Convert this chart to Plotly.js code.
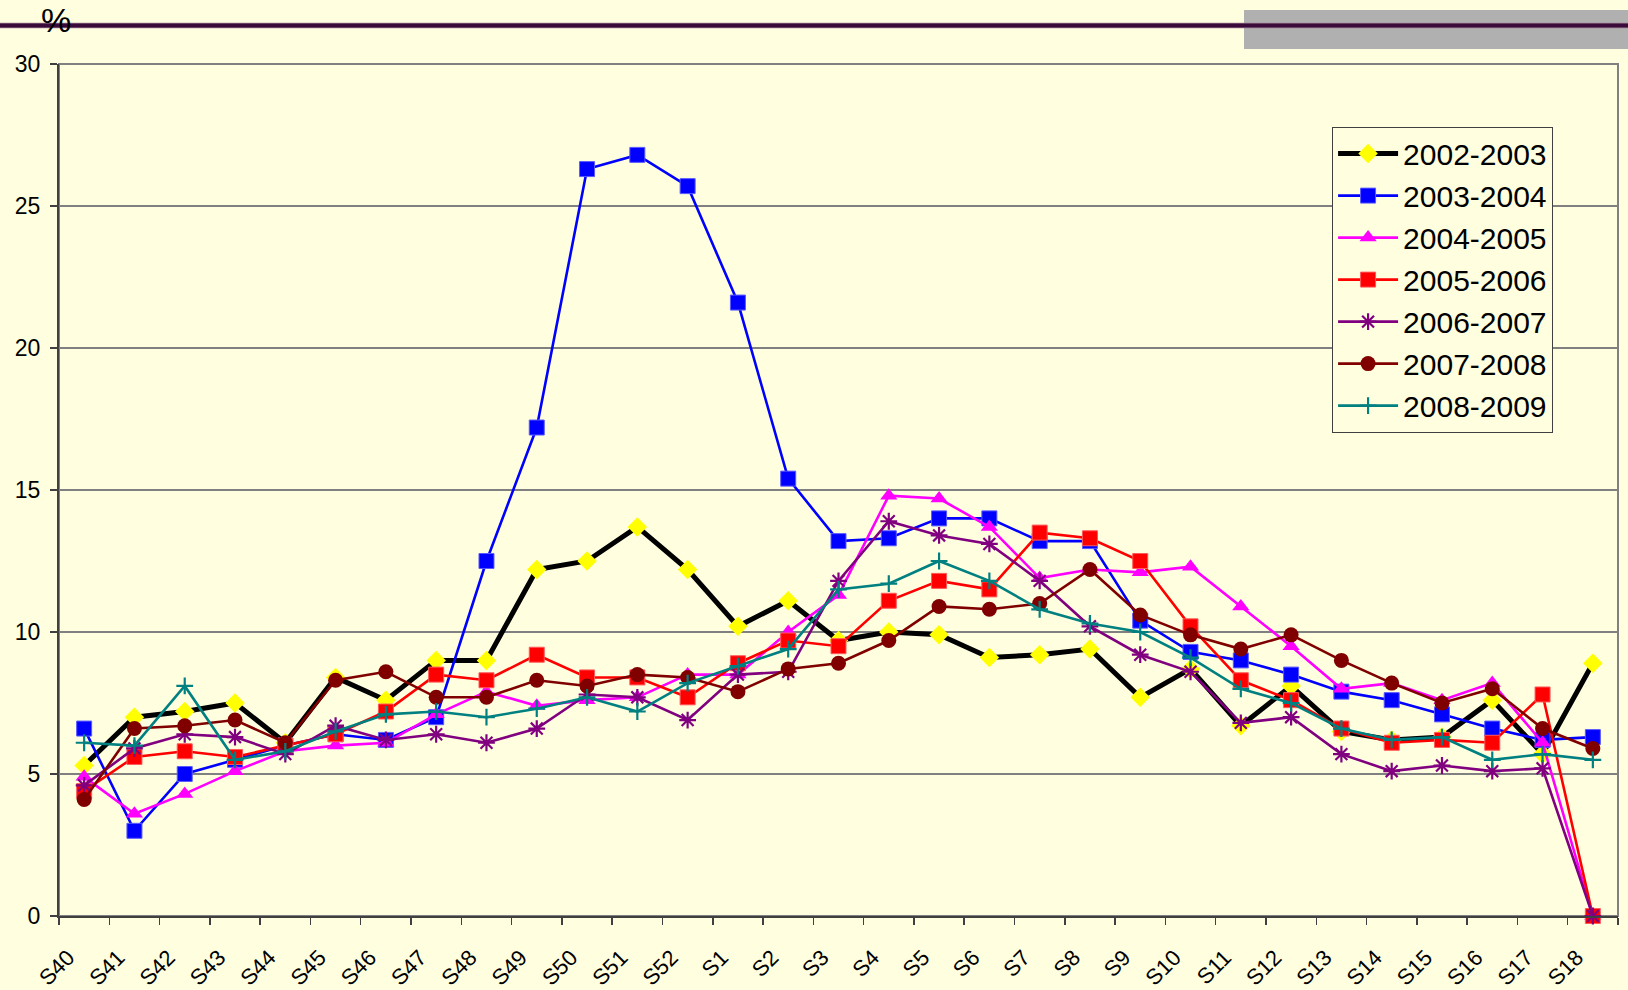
<!DOCTYPE html>
<html>
<head>
<meta charset="utf-8">
<script src="https://cdn.plot.ly/plotly-3.0.1.min.js"></script>
<style>
  html, body { margin: 0; padding: 0; background: #FFFFE0; }
  #chart { width: 1628px; height: 990px; }
</style>
</head>
<body>
<div id="chart"></div>
<script>
const categories = ['S40','S41','S42','S43','S44','S45','S46','S47','S48','S49','S50','S51','S52',
  'S1','S2','S3','S4','S5','S6','S7','S8','S9','S10','S11','S12','S13','S14','S15','S16','S17','S18'];

const seriesNames = ['2002-2003','2003-2004','2004-2005','2005-2006','2006-2007','2007-2008','2008-2009'];

const y0203 = [5.3,7.0,7.2,7.5,6.1,8.4,7.6,9.0,9.0,12.2,12.5,13.7,12.2,10.2,11.1,9.7,10.0,9.9,9.1,9.2,9.4,7.7,8.7,6.7,8.1,6.5,6.2,6.3,7.6,5.7,8.9];
const y0304 = [6.6,3.0,5.0,5.5,6.0,6.4,6.2,7.0,12.5,17.2,26.3,26.8,25.7,21.6,15.4,13.2,13.3,14.0,14.0,13.2,13.2,10.4,9.3,9.0,8.5,7.9,7.6,7.1,6.6,6.2,6.3];
const y0405 = [4.9,3.6,4.3,5.1,5.8,6.0,6.1,7.1,7.9,7.4,7.6,7.7,8.5,8.5,10.0,11.3,14.8,14.7,13.7,11.9,12.2,12.1,12.3,10.9,9.5,8.0,8.2,7.6,8.2,6.1,0];
const y0506 = [4.4,5.6,5.8,5.6,6.0,6.4,7.2,8.5,8.3,9.2,8.4,8.4,7.7,8.9,9.7,9.5,11.1,11.8,11.5,13.5,13.3,12.5,10.2,8.3,7.6,6.6,6.1,6.2,6.1,7.8,0];
const y0607 = [4.6,5.9,6.4,6.3,5.7,6.7,6.2,6.4,6.1,6.6,7.8,7.7,6.9,8.5,8.6,11.8,13.9,13.4,13.1,11.8,10.2,9.2,8.6,6.8,7.0,5.7,5.1,5.3,5.1,5.2,0];
const y0708 = [4.1,6.6,6.7,6.9,6.1,8.3,8.6,7.7,7.7,8.3,8.1,8.5,8.4,7.9,8.7,8.9,9.7,10.9,10.8,11.0,12.2,10.6,9.9,9.4,9.9,9.0,8.2,7.5,8.0,6.6,5.9];
const y0809 = [6.1,6.0,8.1,5.5,5.8,6.5,7.1,7.2,7.0,7.3,7.7,7.2,8.2,8.8,9.4,11.5,11.7,12.5,11.8,10.8,10.3,10.0,9.1,8.0,7.5,6.6,6.2,6.3,5.5,5.7,5.5];

const yTickVals = [0,5,10,15,20,25,30];
const unitLabel = '%';

const seriesValues = [y0203,y0304,y0405,y0506,y0607,y0708,y0809];
const styles = [
  {line:{color:'#000000', width:5}, marker:{symbol:'diamond', color:'#FFFF00', size:15}},
  {line:{color:'#0000FF', width:2.6}, marker:{symbol:'square', color:'#0000FF', size:15, line:{color:'#5A5AFF', width:1}}},
  {line:{color:'#FF00FF', width:2.6}, marker:{symbol:'triangle-up', color:'#FF00FF', size:15}},
  {line:{color:'#FF0000', width:2.6}, marker:{symbol:'square', color:'#FF0000', size:15, line:{color:'#FF5A5A', width:1}}},
  {line:{color:'#800080', width:2.6}, marker:{symbol:'asterisk-open', color:'#800080', size:14, line:{color:'#800080', width:2.2}}},
  {line:{color:'#800000', width:2.6}, marker:{symbol:'circle', color:'#800000', size:15}},
  {line:{color:'#008080', width:2.6}, marker:{symbol:'cross-thin-open', color:'#008080', size:12, line:{color:'#008080', width:2.2}}}
];

const traces = seriesNames.map((n, i) => ({
  type: 'scatter',
  mode: 'lines+markers',
  name: n,
  legendgroup: 'g' + i,
  x: categories,
  y: seriesValues[i],
  line: styles[i].line,
  marker: styles[i].marker,
  cliponaxis: false
}));

const font = 'Liberation Sans, Arial, sans-serif';

const layout = {
  width: 1628,
  height: 990,
  paper_bgcolor: '#FFFFE0',
  plot_bgcolor: '#FFFFE0',
  margin: {l: 59, r: 10, t: 64, b: 74, pad: 0},
  font: {family: font, color: '#000000'},
  showlegend: true,
  legend: {
    x: 0.8166, y: 0.9265, xanchor: 'left', yanchor: 'top',
    bgcolor: '#FFFFE0', bordercolor: '#404040', borderwidth: 1,
    font: {family: font, size: 30, color: '#000000'},
    traceorder: 'grouped', tracegroupgap: 0, itemwidth: 60
  },
  xaxis: {
    type: 'category',
    range: [-0.5, 30.5],
    tickson: 'boundaries',
    ticks: 'outside', ticklen: 7, tickwidth: 1.5, tickcolor: '#404040',
    showline: true, linecolor: '#404040', linewidth: 2,
    showgrid: false, zeroline: false,
    tickangle: -45,
    tickfont: {family: font, size: 22, color: '#000000'},
    ticklabelshift: -16,
    ticklabelstandoff: 18,
    fixedrange: true
  },
  yaxis: {
    range: [0, 30],
    tickvals: yTickVals,
    ticktext: yTickVals.map(String),
    ticks: 'outside', ticklen: 7, tickwidth: 1.5, tickcolor: '#404040',
    showline: true, linecolor: '#404040', linewidth: 2,
    showgrid: true, gridcolor: '#808080', gridwidth: 1.5,
    zeroline: false,
    tickfont: {family: font, size: 23, color: '#000000'},
    ticklabelstandoff: 5,
    fixedrange: true
  },
  shapes: [
    {type:'rect', xref:'paper', yref:'paper', x0:0, x1:1, y0:0, y1:1,
     line:{color:'#808080', width:2}, fillcolor:'rgba(0,0,0,0)', layer:'below'},
    {type:'rect', xref:'paper', yref:'paper', x0:0.7601, x1:1.0070, y0:1.0176, y1:1.0634,
     line:{width:0}, fillcolor:'#B0B0B0', layer:'above'},
    {type:'line', xref:'paper', yref:'paper', x0:-0.04, x1:1.007, y0:1.0452, y1:1.0452,
     line:{color:'#9A7A8E', width:5.5}, layer:'above'},
    {type:'line', xref:'paper', yref:'paper', x0:-0.04, x1:1.007, y0:1.0452, y1:1.0452,
     line:{color:'#3A0A3A', width:4}, layer:'above'}
  ],
  annotations: [
    {text: unitLabel, xref:'paper', yref:'paper', x:-0.0019, y:1.0516, xanchor:'center', yanchor:'middle',
     showarrow:false, font:{family: font, size: 34, color:'#000000'}}
  ]
};

Plotly.newPlot('chart', traces, layout, {displayModeBar: false, staticPlot: true});
</script>
</body>
</html>
